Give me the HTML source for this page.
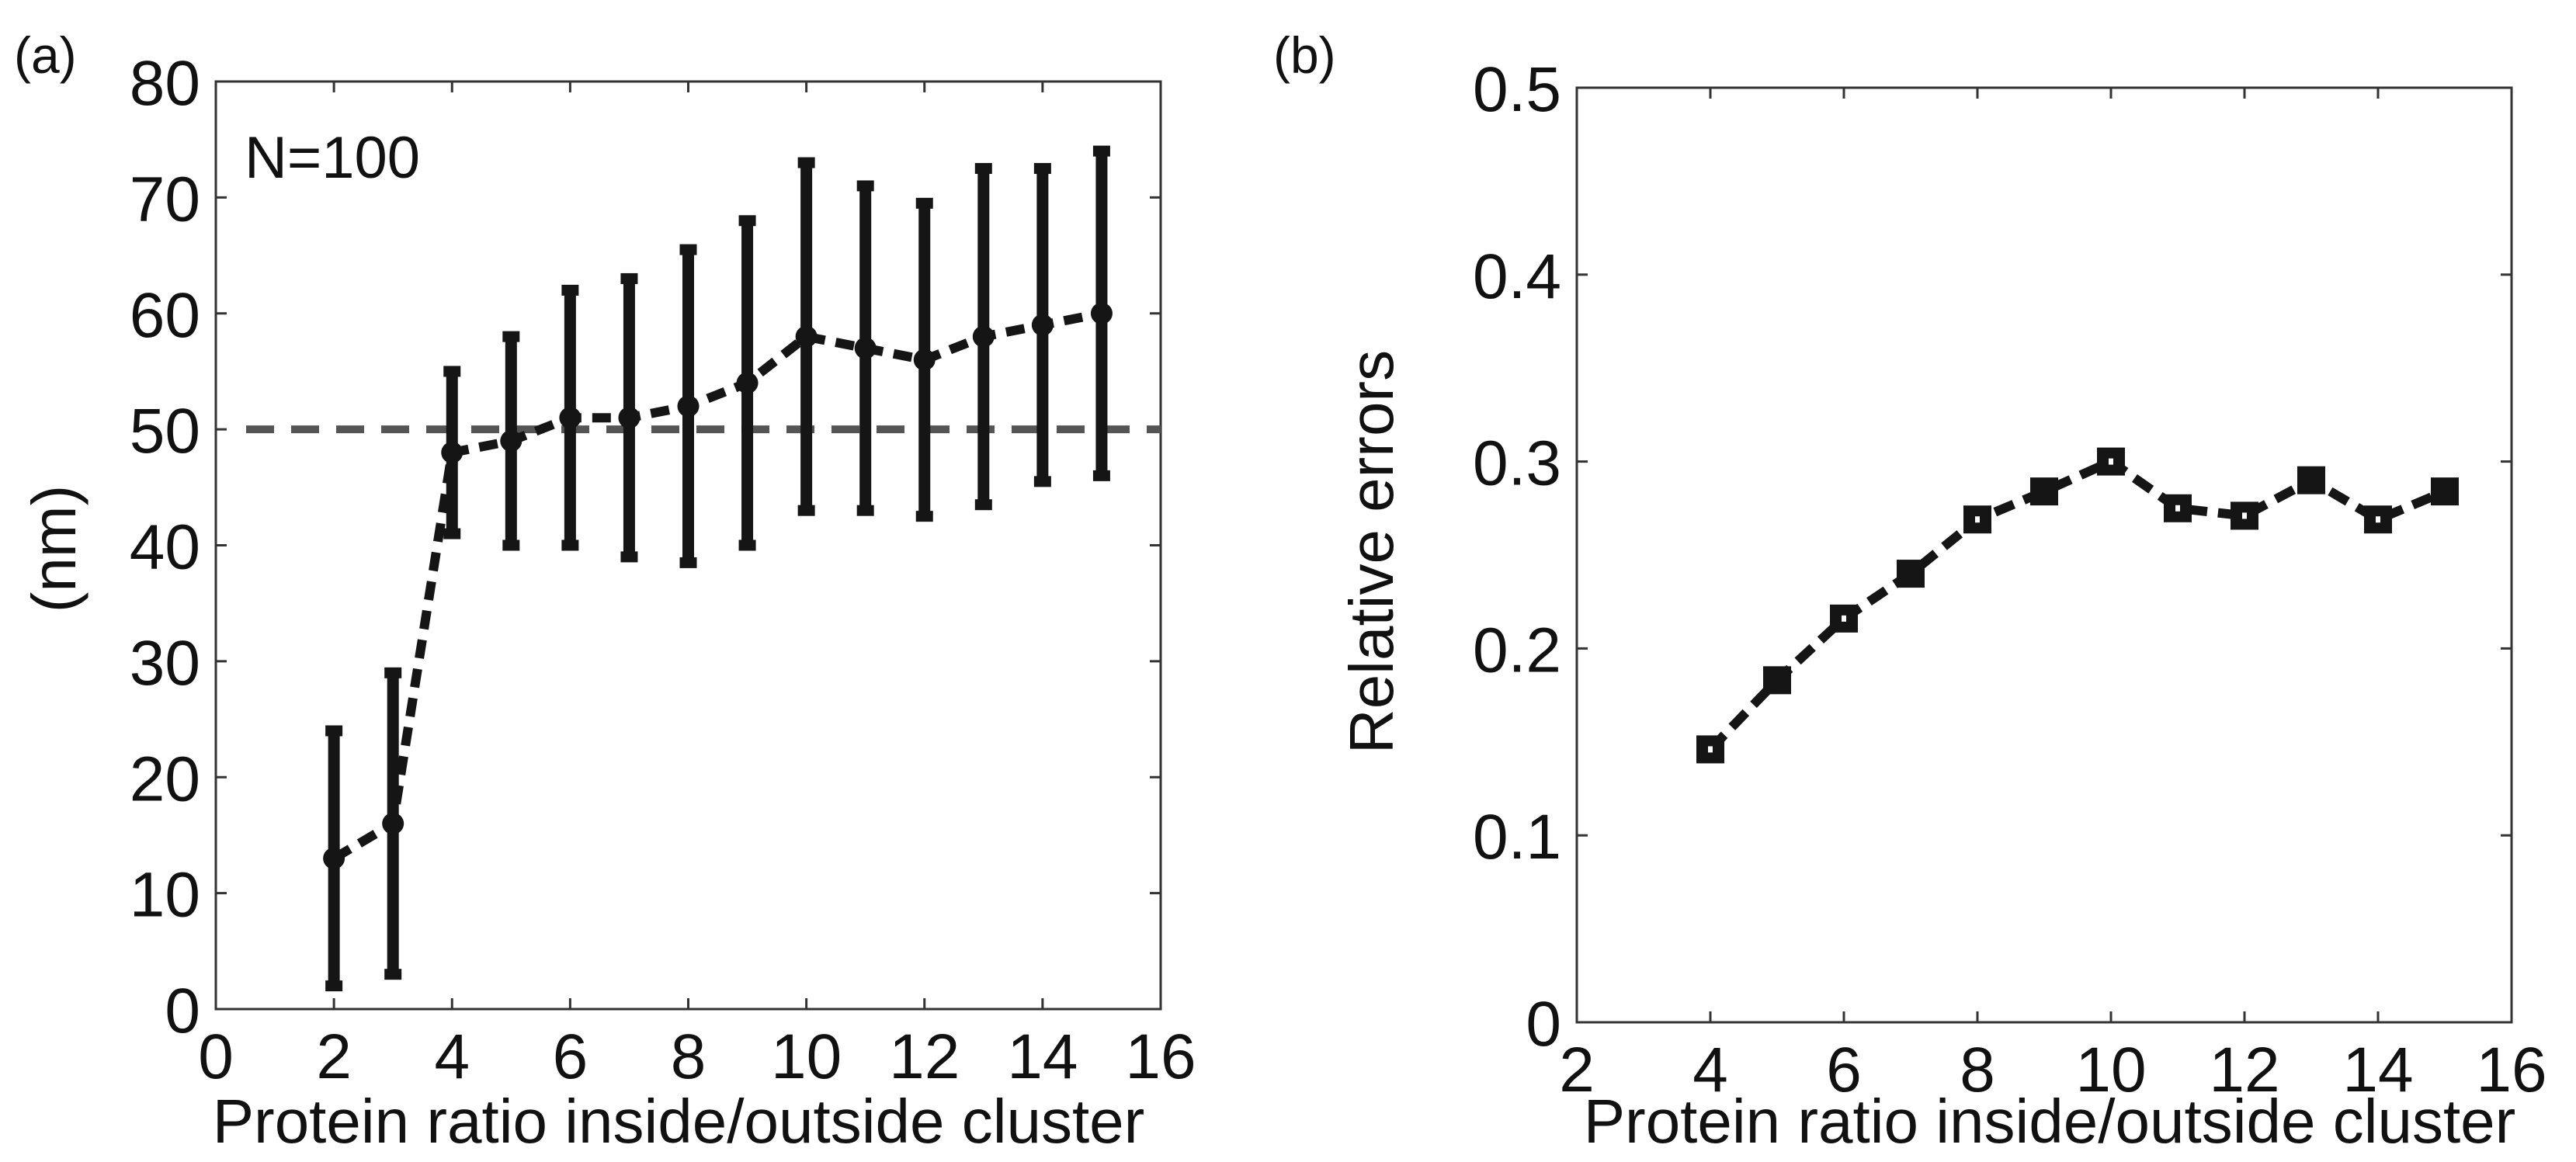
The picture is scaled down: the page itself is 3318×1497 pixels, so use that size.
<!DOCTYPE html>
<html><head><meta charset="utf-8"><style>
html,body{margin:0;padding:0;background:#fff}
svg{display:block}
text{font-family:"Liberation Sans",sans-serif;fill:#111}
</style></head><body>
<svg id="fig" width="3318" height="1497" viewBox="0 0 3318 1497" xmlns="http://www.w3.org/2000/svg">
<g id="pa"></g>
<g id="pb"></g>
</svg>
<script>
// Panel (a) data
const aX = [2,3,4,5,6,7,8,9,10,11,12,13,14,15];
const aMean = [13,16,48,49,51,51,52,54,58,57,56,58,59,60];
const aHigh = [24,29,55,58,62,63,65.5,68,73,71,69.5,72.5,72.5,74];
const aLow = [2,3,41,40,40,39,38.5,40,43,43,42.5,43.5,45.5,46];
const aRef = [50];
const aXTicks = [0,2,4,6,8,10,12,14,16];
const aYTicks = [0,10,20,30,40,50,60,70,80];
// Panel (b) data
const bX = [4,5,6,7,8,9,10,11,12,13,14,15];
const bVal = [0.146,0.183,0.216,0.240,0.269,0.284,0.300,0.275,0.271,0.290,0.269,0.284];
const bXTicks = [2,4,6,8,10,12,14,16];
const bYTicks = [0,0.1,0.2,0.3,0.4,0.5];
const bYLabels = ["0","0.1","0.2","0.3","0.4","0.5"];

const NS="http://www.w3.org/2000/svg";
function mk(parent,tag,attrs,txt){const e=document.createElementNS(NS,tag);for(const k in attrs)e.setAttribute(k,attrs[k]);if(txt!==undefined)e.textContent=txt;parent.appendChild(e);return e;}

function axes(g,L,R,T,B,xmin,xmax,ymin,ymax,xt,yt,ylabs){
  const sx=v=>L+(v-xmin)/(xmax-xmin)*(R-L);
  const sy=v=>B-(v-ymin)/(ymax-ymin)*(B-T);
  const box=mk(g,'rect',{x:L,y:T,width:R-L,height:B-T,fill:'none',stroke:'#333','stroke-width':3});
  
  
  xt.forEach(v=>{
    const x=sx(v);
    const t1=mk(g,'line',{x1:x,x2:x,y1:B,y2:B-14,stroke:'#333','stroke-width':3});
    
    
    mk(g,'line',{x1:x,x2:x,y1:T,y2:T+14,stroke:'#333','stroke-width':3});
    const lb=mk(g,'text',{x:x,y:B+89,'font-size':82,'text-anchor':'middle'},String(v));
    
    
  });
  yt.forEach((v,i)=>{
    const y=sy(v);
    const t1=mk(g,'line',{x1:L,x2:L+14,y1:y,y2:y,stroke:'#333','stroke-width':3});
    
    
    mk(g,'line',{x1:R,x2:R-14,y1:y,y2:y,stroke:'#333','stroke-width':3});
    const lb=mk(g,'text',{x:L-20,y:y+30,'font-size':82,'text-anchor':'end'},ylabs?ylabs[i]:String(v));
    
    
  });
  return {sx,sy};
}

// Panel a
(function(){
  const g=document.getElementById('pa');
  const L=278,R=1495,T=105,B=1300;
  const {sx,sy}=axes(g,L,R,T,B,0,16,0,80,aXTicks,aYTicks);
  const ref=mk(g,'line',{x1:317,x2:R,y1:sy(aRef[0]),y2:sy(aRef[0]),stroke:'#555','stroke-width':10,'stroke-dasharray':'36,22'});
  
  
  aX.forEach((x,i)=>{
    const X=sx(x);
    const eb=mk(g,'line',{x1:X,x2:X,y1:sy(aHigh[i]),y2:sy(aLow[i]),stroke:'#151515','stroke-width':15});
    
    
    mk(g,'rect',{x:X-11,y:sy(aHigh[i])-7,width:22,height:14,fill:'#151515'});
    mk(g,'rect',{x:X-11,y:sy(aLow[i])-7,width:22,height:14,fill:'#151515'});
  });
  const pts=aX.map((x,i)=>sx(x)+','+sy(aMean[i])).join(' ');
  const ln=mk(g,'polyline',{points:pts,fill:'none',stroke:'#151515','stroke-width':12,'stroke-dasharray':'24,14'});
  
  
  aX.forEach((x,i)=>{
    const c=mk(g,'circle',{cx:sx(x),cy:sy(aMean[i]),r:14,fill:'#151515'});
    
    
  });
  const n=mk(g,'text',{x:315,y:229,'font-size':76},'N=100');
  
  
  const yl=mk(g,'text',{x:0,y:0,'font-size':80,'text-anchor':'middle',transform:'translate(97,707) rotate(-90)'},'(nm)');
  
  
  const xl=mk(g,'text',{x:874,y:1472,'font-size':80,'text-anchor':'middle'},'Protein ratio inside/outside cluster');
  
  
  const pl=mk(g,'text',{x:18,y:94,'font-size':66},'(a)');
  
  
})();

// Panel b
(function(){
  const g=document.getElementById('pb');
  const L=2031,R=3235,T=113,B=1317;
  const {sx,sy}=axes(g,L,R,T,B,2,16,0,0.5,bXTicks,bYTicks,bYLabels);
  const pts=bX.map((x,i)=>sx(x)+','+sy(bVal[i])).join(' ');
  const ln=mk(g,'polyline',{points:pts,fill:'none',stroke:'#151515','stroke-width':12,'stroke-dasharray':'26,14'});
  
  
  bX.forEach((x,i)=>{
    const s=mk(g,'rect',{x:sx(x)-18,y:sy(bVal[i])-18,width:36,height:36,fill:'#151515'});
    
    
    if(i%2===0 || i===7){ mk(g,'rect',{x:sx(x)-3,y:sy(bVal[i])-4,width:6,height:8,fill:'#fff'}); }
  });
  const yl=mk(g,'text',{x:0,y:0,'font-size':80,'text-anchor':'middle',transform:'translate(1794,711) rotate(-90)'},'Relative errors');
  
  
  const xl=mk(g,'text',{x:2640,y:1472,'font-size':80,'text-anchor':'middle'},'Protein ratio inside/outside cluster');
  
  
  const pl=mk(g,'text',{x:1640,y:94,'font-size':66},'(b)');
  
  
})();
</script>
</body></html>
